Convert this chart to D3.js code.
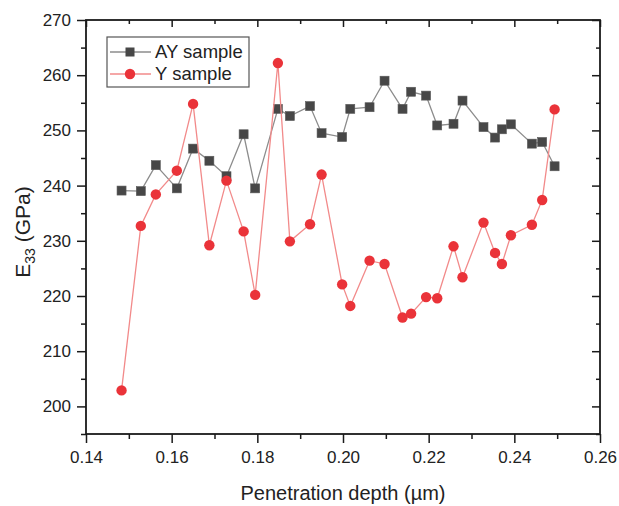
<!DOCTYPE html>
<html>
<head>
<meta charset="utf-8">
<script src="https://cdn.jsdelivr.net/npm/d3@7"></script>
<style>
	body { margin: 0; background: #fff; }
	svg { display: block; font-family: "Liberation Sans", Arial, sans-serif; }
</style>
</head>
<body>
<svg id="chart" width="619" height="506"></svg>
<script>
// penetration depth (um), shared by both samples
const depth = [0.1483, 0.1528, 0.1563, 0.1612, 0.1650, 0.1688, 0.1728, 0.1768, 0.1795, 0.1848,
	0.1876, 0.1923, 0.1950, 0.1998, 0.2017, 0.2062, 0.2097, 0.2139, 0.2159, 0.2194,
	0.2220, 0.2258, 0.2279, 0.2328, 0.2355, 0.2371, 0.2392, 0.2441, 0.2465, 0.2494];

const aySample = [239.1, 239.0, 243.7, 239.5, 246.7, 244.5, 241.7, 249.3, 239.5, 253.9,
	252.6, 254.4, 249.5, 248.8, 253.9, 254.2, 259.0, 253.9, 257.0, 256.3,
	250.9, 251.2, 255.4, 250.6, 248.7, 250.2, 251.1, 247.6, 247.9, 243.5];

const ySample = [202.9, 232.7, 238.4, 242.7, 254.8, 229.2, 240.9, 231.7, 220.2, 262.2,
	229.9, 233.0, 242.0, 222.1, 218.2, 226.4, 225.8, 216.1, 216.8, 219.8,
	219.6, 229.0, 223.4, 233.3, 227.8, 225.8, 231.0, 232.9, 237.4, 253.8];

const seriesNames = ["AY sample", "Y sample"];

const xTicks = [0.14, 0.16, 0.18, 0.20, 0.22, 0.24, 0.26];
const xMinor = [0.15, 0.17, 0.19, 0.21, 0.23, 0.25];
const yTicks = [200, 210, 220, 230, 240, 250, 260, 270];
const yMinor = [195, 205, 215, 225, 235, 245, 255, 265];

const plotLeft = 86, plotRight = 600, plotTop = 20, plotBottom = 434;

const svg = d3.select('#chart');

const x = d3.scaleLinear().domain([0.14, 0.26]).range([plotLeft, plotRight]);
const y = d3.scaleLinear().domain([195, 270]).range([plotBottom, plotTop]);

const axisColor = '#1a1a1a';

// minor ticks first, majors on top
let minorAxis = (gen, vals, tx, ty, size) => svg.append('g')
	.attr('transform', 'translate(' + tx + ',' + ty + ')')
	.call(gen.tickValues(vals).tickSize(size).tickSizeOuter(0).tickFormat(''))
	.call(g => g.select('.domain').remove())
	.call(g => g.selectAll('line').attr('stroke', axisColor).attr('stroke-width', 1.5));

minorAxis(d3.axisBottom(x), xMinor, 0, plotBottom, 5);
minorAxis(d3.axisLeft(y), yMinor, plotLeft, 0, 5);
minorAxis(d3.axisTop(x), xMinor, 0, plotTop, -4);
minorAxis(d3.axisRight(y), yMinor, plotRight, 0, -4);

svg.append('g')
	.attr('transform', 'translate(0,' + plotBottom + ')')
	.call(d3.axisBottom(x).tickValues(xTicks).tickSize(9).tickSizeOuter(0).tickPadding(8)
		.tickFormat(d3.format('.2f')))
	.call(g => g.select('.domain').remove())
	.call(g => g.selectAll('line').attr('stroke', axisColor).attr('stroke-width', 1.5))
	.call(g => g.selectAll('text').attr('fill', '#222').style('font-size', '17px')
		.style('font-family', '"Liberation Sans", Arial, sans-serif'));

svg.append('g')
	.attr('transform', 'translate(' + plotLeft + ',0)')
	.call(d3.axisLeft(y).tickValues(yTicks).tickSize(9).tickSizeOuter(0).tickPadding(6))
	.call(g => g.select('.domain').remove())
	.call(g => g.selectAll('line').attr('stroke', axisColor).attr('stroke-width', 1.5))
	.call(g => g.selectAll('text').attr('fill', '#222').style('font-size', '17px')
		.style('font-family', '"Liberation Sans", Arial, sans-serif'));

svg.append('g')
	.attr('transform', 'translate(0,' + plotTop + ')')
	.call(d3.axisTop(x).tickValues(xTicks).tickSize(-7).tickSizeOuter(0).tickFormat(''))
	.call(g => g.select('.domain').remove())
	.call(g => g.selectAll('line').attr('stroke', axisColor).attr('stroke-width', 1.5));

svg.append('g')
	.attr('transform', 'translate(' + plotRight + ',0)')
	.call(d3.axisRight(y).tickValues(yTicks).tickSize(-8).tickSizeOuter(0).tickFormat(''))
	.call(g => g.select('.domain').remove())
	.call(g => g.selectAll('line').attr('stroke', axisColor).attr('stroke-width', 1.5));

// frame
svg.append('rect')
	.attr('x', plotLeft).attr('y', plotTop)
	.attr('width', plotRight - plotLeft).attr('height', plotBottom - plotTop)
	.attr('fill', 'none').attr('stroke', axisColor).attr('stroke-width', 1.8);

// axis titles
svg.append('text')
	.attr('x', (plotLeft + plotRight) / 2).attr('y', 500)
	.attr('text-anchor', 'middle')
	.attr('fill', '#222')
	.style('font-size', '20px')
	.text('Penetration depth (µm)');

const yTitle = svg.append('text')
	.attr('transform', 'translate(30,' + 232 + ') rotate(-90)')
	.attr('text-anchor', 'middle')
	.attr('fill', '#222')
	.style('font-size', '21px');
yTitle.append('tspan').text('E');
yTitle.append('tspan').attr('dy', 5).style('font-size', '14px').text('33');
yTitle.append('tspan').attr('dy', -5).text(' (GPa)');

const ayColor = '#474747', ayLine = '#8c8c8c';
const yColor = '#ea3339', yLine = '#f28a8a';

let line = vals => d3.line()
	.x((d, i) => x(depth[i]))
	.y(d => y(d))(vals);

// AY sample
svg.append('path')
	.attr('d', line(aySample))
	.attr('fill', 'none').attr('stroke', ayLine).attr('stroke-width', 1.3);

svg.append('g')
	.selectAll('rect')
	.data(aySample)
	.join('rect')
		.attr('x', (d, i) => x(depth[i]) - 4.5)
		.attr('y', d => y(d) - 4.5)
		.attr('width', 9).attr('height', 9)
		.attr('fill', ayColor)
		.attr('stroke', '#5a5a5a').attr('stroke-width', 0.6);

// Y sample
svg.append('path')
	.attr('d', line(ySample))
	.attr('fill', 'none').attr('stroke', yLine).attr('stroke-width', 1.3);

svg.append('g')
	.selectAll('circle')
	.data(ySample)
	.join('circle')
		.attr('cx', (d, i) => x(depth[i]))
		.attr('cy', d => y(d))
		.attr('r', 5.2)
		.attr('fill', yColor);

// legend
const legend = svg.append('g');
legend.append('rect')
	.attr('x', 107).attr('y', 37)
	.attr('width', 142).attr('height', 50)
	.attr('fill', '#fff').attr('stroke', '#555').attr('stroke-width', 1.2);

const rows = [
	{name: seriesNames[0], line: ayLine, fill: ayColor, shape: 'square', cy: 52},
	{name: seriesNames[1], line: yLine, fill: yColor, shape: 'circle', cy: 74}
];

rows.forEach(r => {
	legend.append('line')
		.attr('x1', 110).attr('x2', 151)
		.attr('y1', r.cy).attr('y2', r.cy)
		.attr('stroke', r.line).attr('stroke-width', 1.3);
	if (r.shape == 'square')
		legend.append('rect')
			.attr('x', 130 - 4.5).attr('y', r.cy - 4.5)
			.attr('width', 9).attr('height', 9)
			.attr('fill', r.fill);
	else
		legend.append('circle')
			.attr('cx', 130).attr('cy', r.cy).attr('r', 5.2)
			.attr('fill', r.fill);
	legend.append('text')
		.attr('x', 155).attr('y', r.cy)
		.attr('dy', '0.35em')
		.attr('fill', '#222')
		.style('font-size', '18.5px')
		.text(r.name);
});
</script>
</body>
</html>
